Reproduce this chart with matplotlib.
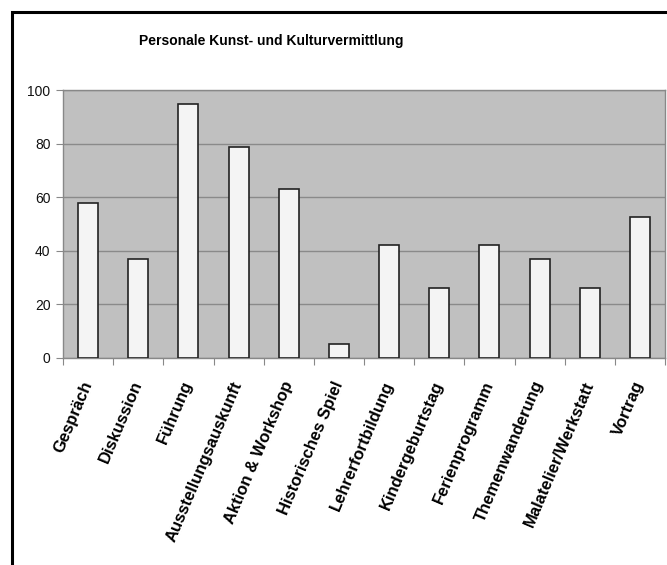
import numpy as np
import matplotlib.pyplot as plt
from matplotlib.patches import Rectangle

plt.rcParams['font.family'] = ['Liberation Sans', 'DejaVu Sans']

# Kategorien und Anteile (in Prozent)
categories = ['Gespräch', 'Diskussion', 'Führung', 'Ausstellungsauskunft',
              'Aktion & Workshop', 'Historisches Spiel', 'Lehrerfortbildung',
              'Kindergeburtstag', 'Ferienprogramm', 'Themenwanderung',
              'Malatelier/Werkstatt', 'Vortrag']
values = [57.9, 36.8, 94.7, 78.9, 63.2, 5.3, 42.1, 26.3, 42.1, 36.8, 26.3, 52.6]
y_ticks = [0, 20, 40, 60, 80, 100]

fig = plt.figure(figsize=(6.67, 5.65), dpi=100)
ax = fig.add_axes([0.0945, 0.3664, 0.9025, 0.4743])

x = np.arange(len(categories))
ax.bar(x, values, width=0.4, color='#f4f4f4', edgecolor='#222222',
       linewidth=1.2, zorder=3)

ax.set_facecolor('#c0c0c0')
ax.set_xlim(-0.5, len(categories) - 0.5)
ax.set_ylim(0, 100)
ax.set_yticks(y_ticks)
ax.set_yticklabels([str(v) for v in y_ticks], fontsize=10, color='#111111')
ax.yaxis.grid(True, color='#8a8a8a', linewidth=1.0, zorder=1)

# Teilstriche zwischen den Kategorien, Beschriftung mittig unter den Balken
ax.set_xticks(np.arange(len(categories) + 1) - 0.5)
ax.set_xticklabels([])
ax.set_xticks(x, minor=True)
ax.set_xticklabels(categories, minor=True, rotation=67, ha='right', va='center',
                   rotation_mode='anchor', fontsize=12, fontweight='bold')
ax.tick_params(axis='x', which='minor', length=0, pad=17)
ax.tick_params(axis='x', which='major', length=5, color='#888888')
ax.tick_params(axis='y', length=5, color='#888888', pad=4)

for side in ['left', 'bottom', 'top', 'right']:
    ax.spines[side].set_color('#888888')
    ax.spines[side].set_linewidth(1.0)

fig.text(0.406, 0.928, 'Personale Kunst- und Kulturvermittlung',
         ha='center', va='center', fontsize=10, fontweight='bold')

# Rahmen um das Diagramm
fig.patches.append(Rectangle((12 / 667, -0.05), 1.05, 1 - 12 / 565 + 0.05,
                             transform=fig.transFigure, fill=False,
                             edgecolor='black', linewidth=2.2))

fig.savefig('out.png', dpi=100)
